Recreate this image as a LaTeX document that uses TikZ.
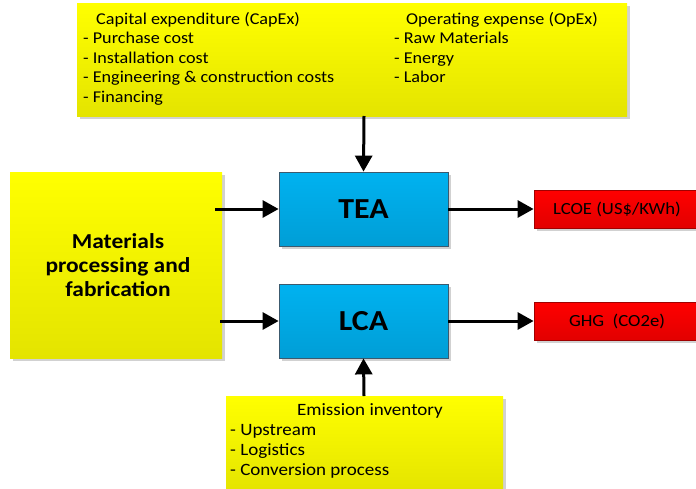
\documentclass[tikz,border=0pt]{standalone}
\usepackage{fontspec}
\setmainfont{Carlito}[FakeStretch=1.1]
\usetikzlibrary{shadows,arrows.meta}
\begin{document}
\begin{tikzpicture}[x=1pt,y=-1pt,
  ybox/.style={draw=none,top color=yellow,bottom color={rgb,255:red,228;green,228;blue,0},
    drop shadow={shadow xshift=3pt,shadow yshift=-3pt,fill=black!18,opacity=1}},
  bbox/.style={draw={rgb,255:red,60;green,90;blue,110},line width=0.8pt,top color={rgb,255:red,0;green,178;blue,240},bottom color={rgb,255:red,0;green,158;blue,214},
    drop shadow={shadow xshift=3pt,shadow yshift=-3pt,fill=black!18,opacity=1}},
  rbox/.style={draw={rgb,255:red,160;green,0;blue,0},line width=0.8pt,top color=red,bottom color={rgb,255:red,226;green,0;blue,0},
    drop shadow={shadow xshift=3pt,shadow yshift=-3pt,fill=black!18,opacity=1}},
  arr/.style={line width=3pt,-{Triangle[length=16pt,width=17pt]}},
  txt/.style={inner sep=0pt,anchor=base west,font=\fontsize{16.5}{20}\selectfont},
  btxt/.style={inner sep=0pt,anchor=base west,font=\fontsize{17.3}{20}\selectfont}
]
\useasboundingbox (0,0) rectangle (696,488);
% boxes
\path[ybox] (77,3) rectangle (627,116);
\coordinate (topc) at (364,116);
\path[ybox] (10,172) rectangle (222,358);
\path[ybox] (226,396) rectangle (503,492);
\coordinate (botc) at (364,396);
\node[bbox,minimum width=169pt,minimum height=74pt,inner sep=0pt,font=\fontsize{29}{32}\selectfont\bfseries] (tea) at (363.5,209) {TEA};
\node[bbox,minimum width=169pt,minimum height=74pt,inner sep=0pt,font=\fontsize{29}{32}\selectfont\bfseries] (lca) at (363.5,321) {LCA};
\node[rbox,minimum width=166pt,minimum height=38pt,inner sep=0pt,font=\fontsize{17}{19}\selectfont] (lcoe) at (617,209) {LCOE (US\$/KWh)};
\node[rbox,minimum width=166pt,minimum height=38pt,inner sep=0pt,font=\fontsize{17}{19}\selectfont] (ghg) at (617,321) {GHG\ \ (CO2e)};
% texts top
\node[txt] (c0) at (96,24) {Capital expenditure (CapEx)};
\node[txt] (c1) at (83,43.5) {- Purchase cost};
\node[txt] (c2) at (83,63) {- Installation cost};
\node[txt] (c3) at (83,82.5) {- Engineering \& construction costs};
\node[txt] (c4) at (83,102) {- Financing};
\node[txt] (o0) at (406,24) {Operating expense (OpEx)};
\node[txt] (o1) at (394,43.5) {- Raw Materials};
\node[txt] (o2) at (394,63) {- Energy};
\node[txt] (o3) at (394,82.5) {- Labor};
% materials
\node[align=center,font=\fontsize{21.3}{24}\selectfont\bfseries,inner sep=0pt] (mat) at (118,265) {Materials\\processing and\\fabrication};
\coordinate (m1) at (215,209);
\coordinate (m2) at (220,321);
% bottom texts
\node[btxt,anchor=base] (e0) at (370,415) {Emission inventory};
\node[btxt] (e1) at (230,435) {- Upstream};
\node[btxt] (e2) at (230,455) {- Logistics};
\node[btxt] (e3) at (230,475) {- Conversion process};
% arrows
\draw[arr] (topc) -- (tea.north);
\draw[arr] (botc) -- (lca.south);
\draw[arr] (m1) -- (tea.west);
\draw[arr] (m2) -- (lca.west);
\draw[arr] (tea.east) -- (lcoe.west);
\draw[arr] (lca.east) -- (ghg.west);
\end{tikzpicture}
\end{document}
